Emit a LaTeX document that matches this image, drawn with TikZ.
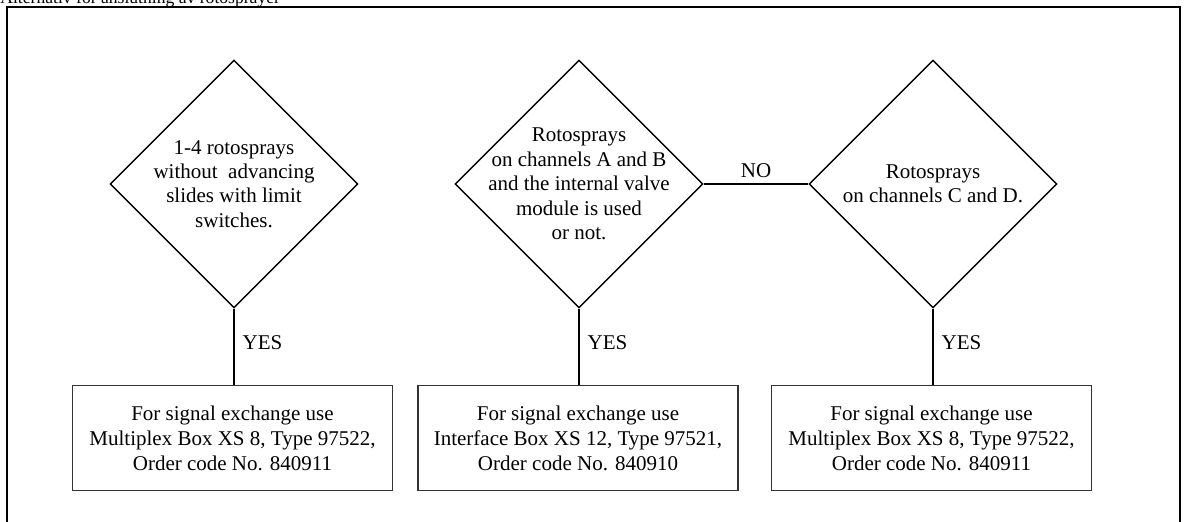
\documentclass[tikz,border=0pt]{standalone}
\usepackage{fontspec}
\setmainfont{Liberation Serif}
\usetikzlibrary{positioning,shapes.geometric}
\tikzset{
  decision/.style={diamond,draw=black,line width=0.7pt,aspect=1,inner sep=0pt,
    minimum width=124pt,minimum height=124pt},
  dtext/.style={align=center,inner sep=0pt,font=\fontsize{10.5}{12.2}\selectfont},
  result/.style={rectangle,draw=black!80,line width=0.75pt,minimum width=160pt,
    minimum height=52.5pt,align=center,font=\fontsize{10.5}{12.5}\selectfont},
  link/.style={draw=black,line width=0.7pt},
  answer/.style={font=\fontsize{10.5}{12}\selectfont,inner sep=1pt},
}

\begin{document}
\begin{tikzpicture}[x=0.5pt,y=-0.5pt]
  \useasboundingbox (0,0) rectangle (1184,522);
  \clip (0,0) rectangle (1184,522);
  % heading, cut by the page edge
  \node[anchor=base west,inner sep=0pt,font=\fontsize{8.8}{10}\selectfont] (title) at (0,4)
    {Alternativ för anslutning av rotosprayer};
  \draw[line width=1.1pt] (7,7) rectangle (1180,560);
  % questions
  \node[decision] (q1) at (234,184) {};
  \node[decision] (q2) at (579,184) {};
  \node[decision] (q3) at (933,184) {};
  \node[dtext] at (q1) {1-4 rotosprays\\without~ advancing\\slides with limit\\switches.};
  \node[dtext] at (q2) {Rotosprays\\on channels A and B\\and the internal valve\\module is used\\or not.};
  \node[dtext] at (q3) {Rotosprays\\on channels C and D.};
  % answers
  \node[result] (b1) at (232.5,438) {For signal exchange use\\Multiplex Box XS 8, Type 97522,\\Order code No. 840911};
  \node[result] (b2) at (578,438) {For signal exchange use\\Interface Box XS 12, Type 97521,\\Order code No. 840910};
  \node[result] (b3) at (931.5,438) {For signal exchange use\\Multiplex Box XS 8, Type 97522,\\Order code No. 840911};
  \draw[link] (q2.east) -- node[answer,above=2pt]{NO} (q3.west);
  \foreach \q/\b in {q1/b1,q2/b2,q3/b3}
    \draw[link] (\q.south) -- node[answer,right=3pt,pos=0.45]{YES} (\q.south |- \b.north);
\end{tikzpicture}
\end{document}
